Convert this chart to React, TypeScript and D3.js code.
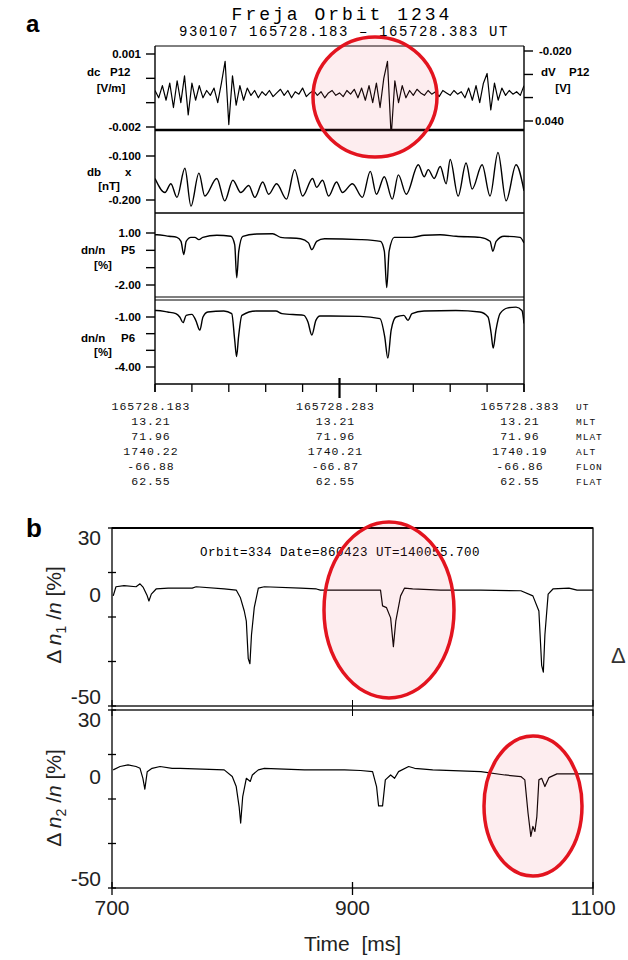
import * as d3 from 'd3';

// ---------- panel a : Freja orbit 1234, time in ms after 165728.183 UT
const dETimes = d3.range(0, 201, 2);
// dE P12 in units of 0.001 V/m
const dE = [
  -0.5, -0.8, -0.3, -0.9, -0.2, -1.2, -0.1, -1.0, 0.1, -1.5, -0.2, -0.9, -0.3, -0.8, -0.5, -0.7,
  -0.4, -1.0, -0.2, 0.7, -1.9, 0.1, -1.1, -0.3, -0.9, -0.4, -0.7, -0.5, -0.8, -0.55, -0.7, -0.5,
  -0.75, -0.6, -0.45, -0.7, -0.5, -0.8, -0.55, -0.65, -0.4, -0.75, -0.6, -0.5, -0.7, -0.55, -0.8,
  -0.6, -0.5, -0.7, -0.6, -0.75, -0.5, -0.65, -0.45, -0.8, -0.4, -0.9, -0.3, -1.0, -0.2, -1.2, 0.0,
  0.7, -2.4, -0.1, -1.0, -0.3, -0.8, -0.5, -0.7, -0.45, -0.6, -0.7, -0.5, -0.65, -0.55, -0.75, -0.5,
  -0.6, -0.7, -0.5, -0.65, -0.55, -0.8, -0.4, -0.9, -0.3, -1.0, -0.2, 0.2, -1.3, -0.2, -0.9, -0.4,
  -0.7, -0.5, -0.65, -0.55, -0.7, -0.3,
];
const dETicks = [1, 0, -1, -2];
const dETickText = ['0.001', '', '', '-0.002'];
const dVTicks = [-0.02, -0.0267, -0.0333, -0.04];
const dVTickText = ['-0.020', '', '', '0.040'];

// db x [nT]
const dbX: [number, number][] = [
  [0, -0.151], [5.4, -0.183], [8.6, -0.163], [11.9, -0.194], [16.2, -0.128], [19.5, -0.214],
  [23.8, -0.139], [27, -0.191], [33.5, -0.151], [37.8, -0.202], [42.2, -0.155], [46.5, -0.183],
  [50.8, -0.167], [54.1, -0.194], [58.4, -0.159], [61.6, -0.187], [65.9, -0.163], [71.3, -0.198],
  [75.7, -0.131], [80, -0.191], [85.4, -0.151], [87.6, -0.171], [90.8, -0.155], [94.1, -0.191],
  [98.4, -0.159], [101.6, -0.183], [107, -0.163], [112.4, -0.194], [116.7, -0.135], [120, -0.187],
  [124.3, -0.147], [128.6, -0.198], [131.9, -0.143], [136.2, -0.187], [142.7, -0.12], [145.9, -0.147],
  [148.1, -0.131], [151.3, -0.151], [154.6, -0.124], [157.8, -0.163], [160, -0.108], [164.3, -0.191],
  [168.6, -0.116], [171.9, -0.175], [177.3, -0.12], [181.6, -0.191], [185.9, -0.092], [190.3, -0.202],
  [195.7, -0.12], [200, -0.179],
];
const dbTicks = [-0.1, -0.2];
const dbTickText = ['-0.100', '-0.200'];

// dn/n P5 [%]
const p5: [number, number][] = [
  [0, 0.9], [1.1, 0.9], [7.6, 0.81], [11.9, 0.75], [14.1, 0.52], [15.6, -0.24], [16.9, 0.52],
  [19.5, 0.75], [21.6, 0.75], [23.8, 0.62], [25.9, 0.75], [33.5, 0.87], [41.1, 0.81], [43.2, 0.33],
  [44.3, -1.58], [45.4, -0.05], [47.6, 0.81], [55.1, 0.94], [63.8, 0.96], [68.1, 0.75], [78.9, 0.67],
  [83.2, 0.43], [85, 0.04], [87.6, 0.52], [91.9, 0.67], [111.3, 0.62], [122.2, 0.52], [124.3, -0.05],
  [125.6, -2.15], [126.9, -0.05], [129.7, 0.75], [139.4, 0.75], [145.9, 0.87], [154.6, 0.9],
  [163.2, 0.81], [176.2, 0.75], [181.6, 0.52], [183.1, -0.05], [184.9, 0.52], [189.2, 0.81],
  [197.8, 0.75], [200, 0.43],
];
const p5Ticks = [1, 0, -1, -2];
const p5TickText = ['1.00', '', '', '-2.00'];

// dn/n P6 [%]
const p6: [number, number][] = [
  [0, -0.61], [0.9, -0.61], [6.9, -0.7], [11.3, -0.8], [13.4, -1.0], [15.2, -1.34], [16.9, -0.9],
  [20, -0.84], [22.1, -1.2], [24.3, -1.79], [26, -1.0], [28.6, -0.7], [37.3, -0.64], [41.6, -0.8],
  [43.2, -2.38], [44.2, -3.37], [45.3, -2.18], [47.1, -0.9], [54.7, -0.64], [65.5, -0.64],
  [68.8, -0.8], [80.7, -0.9], [82.9, -1.3], [85, -2.08], [87.2, -1.2], [89.4, -0.94], [111.1, -0.96],
  [121.9, -1.1], [124.5, -2.18], [126.2, -3.47], [128, -1.79], [130.6, -1.0], [134.9, -0.9],
  [137.1, -1.2], [139.3, -0.8], [145.8, -0.64], [163.1, -0.61], [176.1, -0.7], [180.5, -1.0],
  [182.2, -1.99], [183.3, -2.87], [184.8, -1.79], [187, -0.8], [191.3, -0.45], [195.7, -0.41],
  [198.9, -0.61], [200, -1.39],
];
const p6Ticks = [-1, -2, -3, -4];
const p6TickText = ['-1.00', '', '', '-4.00'];

const timeTicks = d3.range(0, 201, 20);
const tableTimes = [0, 100, 200];
const tableNames = ['UT', 'MLT', 'MLAT', 'ALT', 'FLON', 'FLAT'];
const tableValues = [
  ['165728.183', '13.21', '71.96', '1740.22', '-66.88', '62.55'],
  ['165728.283', '13.21', '71.96', '1740.21', '-66.87', '62.55'],
  ['165728.383', '13.21', '71.96', '1740.19', '-66.86', '62.55'],
];

// ---------- panel b : orbit 334, time [ms]
const n1: [number, number][] = [
  [701, -0.5], [703.3, 3.6], [710, 4.1], [720, 3.6], [723.3, 4.9], [726, 3.3], [729.3, -0.5],
  [730.7, -2.8], [732.7, 0.3], [736.7, 2.6], [746.7, 3.0], [766.7, 3.0], [770, 3.6], [793.3, 2.6],
  [803.3, 2.1], [806.7, -1.2], [810, -7.3], [811.7, -11.9], [813.3, -28.7], [814.7, -31.0],
  [816, -18.0], [818.3, -5.8], [821.7, 3.0], [826.7, 3.6], [856.7, 3.0], [870, 2.6], [873.3, 2.1],
  [923.3, 2.1], [925, -5.0], [928.3, -5.8], [931.7, -10.4], [934, -23.3], [936, -11.9], [940, -0.5],
  [943.3, 3.0], [950, 2.6], [973.3, 2.1], [1006.7, 2.1], [1040, 1.8], [1050, -0.5], [1055, -7.3],
  [1057.3, -31.7], [1058.7, -34.8], [1060, -18.0], [1062.7, 0.3], [1066.7, 2.6], [1080, 3.0],
  [1086.7, 2.1], [1100, 2.1],
];
const n2: [number, number][] = [
  [701, 3.1], [706.7, 4.6], [713.3, 5.3], [720, 4.6], [723.3, 3.8], [725.7, -0.7], [727.3, -5.6],
  [729.3, 2.3], [733.3, 3.8], [740, 4.6], [750, 3.8], [756.7, 3.8], [793.3, 3.1], [800, 0.1],
  [803.3, -4.4], [805.7, -13.4], [807, -20.8], [808.7, -8.9], [811.7, -0.7], [815, -2.1],
  [816.7, 0.8], [821.7, 3.1], [826.7, 3.8], [860, 3.1], [893.3, 3.1], [906.7, 2.8], [916.7, 2.3],
  [920, -4.4], [921.7, -13.1], [925, -13.1], [927.3, -1.4], [931.7, 0.8], [935, -0.7], [938.3, 2.3],
  [946.7, 4.6], [951.7, 3.8], [966.7, 3.1], [1006.7, 2.3], [1026.7, 0.8], [1040, 0.1], [1043.3, -1.4],
  [1046, -16.4], [1048.3, -26.8], [1050, -22.3], [1051.7, -24.6], [1053.3, -17.9], [1055, -1.4],
  [1057.3, -0.7], [1060, -4.4], [1063.3, -0.4], [1070, 1.3], [1086.7, 1.3], [1100, 1.3],
];
const bTickVals = [30, 10, -10, -30, -50];
const bLabelVals = [30, 0, -50];
const bTimeTicks = [700, 900, 1100];

const sans = 'Liberation Sans, Arial, sans-serif';
const mono = 'Liberation Mono, DejaVu Sans Mono, monospace';

export default function App() {
  const aL = 155, aR = 524;
  const xA = d3.scaleLinear().domain([0, 200]).range([aL, aR]);

  const yE = d3.scaleLinear().domain([-2, 1]).range([127, 54]);
  const yV = d3.scaleLinear().domain([-0.04, -0.02]).range([121, 51]);
  const yB = d3.scaleLinear().domain([-0.2, -0.1]).range([200, 156]);
  const y5 = d3.scaleLinear().domain([-2, 1]).range([285, 233]);
  const y6 = d3.scaleLinear().domain([-4, -1]).range([367, 317]);

  const lineE = d3.line<number>().x((_, i) => xA(dETimes[i])).y(d => yE(d));
  const pair = (y: d3.ScaleLinear<number, number>, curve: d3.CurveFactory = d3.curveLinear) =>
    d3.line<[number, number]>().x(d => xA(d[0])).y(d => y(d[1])).curve(curve);

  const bL = 112, bR = 593;
  const xB = d3.scaleLinear().domain([700, 1100]).range([bL, bR]);
  const yN1 = d3.scaleLinear().domain([-50, 30]).range([706, 528]);
  const yN2 = d3.scaleLinear().domain([-50, 30]).range([888, 710]);
  const lineB = (y: d3.ScaleLinear<number, number>) =>
    d3.line<[number, number]>().x(d => xB(d[0])).y(d => y(d[1]));

  const frames = [
    { id: 'fE', top: 46, bottom: 130 },
    { id: 'fB', top: 130, bottom: 213 },
    { id: 'f5', top: 213, bottom: 298 },
    { id: 'f6', top: 299, bottom: 384 },
  ];

  const leftAxis = (y: d3.ScaleLinear<number, number>, ticks: number[], text: string[]) =>
    ticks.map((t, i) => (
      <g key={i}>
        <line x1={aL - 9} x2={aL} y1={y(t)} y2={y(t)} stroke="#000" strokeWidth={1.4} />
        {text[i] && (
          <text x={aL - 14} y={y(t) + 4} textAnchor="end" fontSize={11.5} fontWeight="bold" fontFamily={sans}>
            {text[i]}
          </text>
        )}
      </g>
    ));

  const labA = { fontFamily: sans, fontSize: 11.5, fontWeight: 'bold' as const };

  const yLabel = (sub: string, cy: number) => (
    <text
      transform={`translate(61,${cy}) rotate(-90)`}
      textAnchor="middle"
      fontFamily={sans}
      fontSize={21}
      fill="#222"
    >
      Δ <tspan fontStyle="italic">n</tspan>
      <tspan fontSize={14} dy={5}>{sub}</tspan>
      <tspan dy={-5}> /</tspan>
      <tspan fontStyle="italic">n</tspan> [%]
    </text>
  );

  return (
    <svg
      width={628}
      height={960}
      style={{ position: 'absolute', left: 0, top: 0, background: '#fff' }}
    >
      <defs>
        {frames.map(f => (
          <clipPath id={f.id} key={f.id}>
            <rect x={aL} y={f.top} width={aR - aL} height={f.bottom - f.top} />
          </clipPath>
        ))}
        <clipPath id="cb1"><rect x={bL} y={528} width={bR - bL} height={178} /></clipPath>
        <clipPath id="cb2"><rect x={bL} y={710} width={bR - bL} height={178} /></clipPath>
      </defs>

      {/* ---------------- panel a ---------------- */}
      <text x={26} y={32} fontFamily={sans} fontWeight="bold" fontSize={24}>a</text>
      <text x={342} y={20} textAnchor="middle" fontFamily={mono} fontSize={18} letterSpacing={3}>
        Freja Orbit 1234
      </text>
      <text x={344} y={36} textAnchor="middle" fontFamily={mono} fontSize={14} letterSpacing={1.6}>
        930107 165728.183 – 165728.383 UT
      </text>

      <g fill="none" stroke="#000">
        <line x1={aL} x2={aL} y1={46} y2={392} strokeWidth={1.4} />
        <line x1={aR} x2={aR} y1={46} y2={392} strokeWidth={1.4} />
        <line x1={aL} x2={aR} y1={46} y2={46} strokeWidth={1} />
        <line x1={aL} x2={aR} y1={130} y2={130} strokeWidth={2.4} />
        <line x1={aL} x2={aR} y1={213} y2={213} strokeWidth={1.6} />
        <line x1={aL} x2={aR} y1={297} y2={297} strokeWidth={1.2} />
        <line x1={aL} x2={aR} y1={300} y2={300} strokeWidth={1} />
        <line x1={aL} x2={aR} y1={384} y2={384} strokeWidth={1.6} />
      </g>

      <g fill="none" stroke="#000" strokeWidth={1.2} strokeLinejoin="round">
        <path d={lineE(dE) ?? ''} clipPath="url(#fE)" />
        <path d={pair(yB, d3.curveMonotoneX)(dbX) ?? ''} clipPath="url(#fB)" strokeWidth={1.4} />
        <path d={pair(y5, d3.curveMonotoneX)(p5) ?? ''} clipPath="url(#f5)" strokeWidth={1.4} />
        <path d={pair(y6, d3.curveMonotoneX)(p6) ?? ''} clipPath="url(#f6)" strokeWidth={1.4} />
      </g>

      {leftAxis(yE, dETicks, dETickText)}
      {leftAxis(yB, dbTicks, dbTickText)}
      {leftAxis(y5, p5Ticks, p5TickText)}
      {leftAxis(y6, p6Ticks, p6TickText)}

      {dVTicks.map((t, i) => (
        <g key={i}>
          <line x1={aR} x2={aR + 9} y1={yV(t)} y2={yV(t)} stroke="#000" strokeWidth={1.4} />
          {dVTickText[i] && (
            <text x={i === 0 ? 539 : 535} y={yV(t) + 4} {...labA}>{dVTickText[i]}</text>
          )}
        </g>
      ))}
      <g {...labA}>
        <text x={541} y={76}>dV</text>
        <text x={569} y={76}>P12</text>
        <text x={563} y={92} textAnchor="middle">[V]</text>
      </g>

      <g {...labA}>
        <text x={87} y={76}>dc</text>
        <text x={110} y={76}>P12</text>
        <text x={111} y={92} textAnchor="middle">[V/m]</text>
        <text x={87} y={176}>db</text>
        <text x={125} y={176}>x</text>
        <text x={109} y={190} textAnchor="middle">[nT]</text>
        <text x={81} y={254}>dn/n</text>
        <text x={121} y={254}>P5</text>
        <text x={103} y={269} textAnchor="middle">[%]</text>
        <text x={81} y={342}>dn/n</text>
        <text x={121} y={342}>P6</text>
        <text x={103} y={356} textAnchor="middle">[%]</text>
      </g>

      {timeTicks.map(t => (
        <line
          key={t}
          x1={xA(t)}
          x2={xA(t)}
          y1={t === 100 ? 378 : 384}
          y2={t === 100 ? 398 : 392}
          stroke="#000"
          strokeWidth={t === 100 ? 2.2 : 1.3}
        />
      ))}

      <g fontFamily={mono} fontSize={11.5} letterSpacing={1} fill="#111">
        {tableValues.map((col, ci) =>
          col.map((v, ri) => (
            <text key={`${ci}-${ri}`} x={xA(tableTimes[ci]) - 4} y={410 + ri * 15} textAnchor="middle">
              {v}
            </text>
          )),
        )}
        {tableNames.map((n, ri) => (
          <text key={n} x={576} y={410 + ri * 15} fontSize={9.5}>{n}</text>
        ))}
      </g>

      {/* ---------------- panel b ---------------- */}
      <text x={26} y={537} fontFamily={sans} fontWeight="bold" fontSize={26}>b</text>

      <g fill="none" stroke="#000">
        <rect x={bL} y={528} width={bR - bL} height={178} strokeWidth={1.3} />
        <line x1={bL} x2={bR} y1={528} y2={528} strokeWidth={2} />
        <rect x={bL} y={710} width={bR - bL} height={178} strokeWidth={1.3} />
      </g>

      <text x={200} y={556} fontFamily={mono} fontSize={12.5} letterSpacing={0.5}>
        Orbit=334 Date=860423 UT=140055.700
      </text>

      <g fill="none" stroke="#000" strokeWidth={1.2} strokeLinejoin="round">
        <path d={lineB(yN1)(n1) ?? ''} clipPath="url(#cb1)" />
        <path d={lineB(yN2)(n2) ?? ''} clipPath="url(#cb2)" />
      </g>

      {[yN1, yN2].map((y, k) => (
        <g key={k}>
          {bTickVals.map(t => (
            <line key={t} x1={bL - 4} x2={bL + 4} y1={y(t)} y2={y(t)} stroke="#000" strokeWidth={1.3} />
          ))}
          {bLabelVals.map((t, i) => (
            <text
              key={t}
              x={bL - 11}
              y={i === 0 ? y(t) + 17 : i === 1 ? y(t) + 7.5 : y(t) - 2}
              textAnchor="end"
              fontFamily={sans}
              fontSize={21}
              fill="#222"
            >
              {t}
            </text>
          ))}
        </g>
      ))}

      {bTimeTicks.map(t => (
        <g key={t}>
          <line x1={xB(t)} x2={xB(t)} y1={882} y2={895} stroke="#000" strokeWidth={1.3} />
          <line x1={xB(t)} x2={xB(t)} y1={700} y2={716} stroke="#000" strokeWidth={1} />
          <text x={xB(t)} y={915} textAnchor="middle" fontFamily={sans} fontSize={21} fill="#222">
            {t}
          </text>
        </g>
      ))}
      <text
        x={xB(900)}
        y={951}
        textAnchor="middle"
        fontFamily={sans}
        fontSize={21}
        fill="#222"
        style={{ whiteSpace: 'pre' }}
      >
        {'Time  [ms]'}
      </text>

      {yLabel('1', 615)}
      {yLabel('2', 798)}

      <text x={611} y={663} fontFamily={sans} fontSize={22} fill="#333">Δ</text>

      {/* highlight circles */}
      <g fill="rgba(235,80,95,0.1)" stroke="#e3141f" strokeWidth={3.5}>
        <ellipse cx={375} cy={97} rx={62} ry={60} />
        <ellipse cx={389} cy={610} rx={65} ry={88} />
        <ellipse cx={533} cy={806} rx={49} ry={70} />
      </g>
    </svg>
  );
}
